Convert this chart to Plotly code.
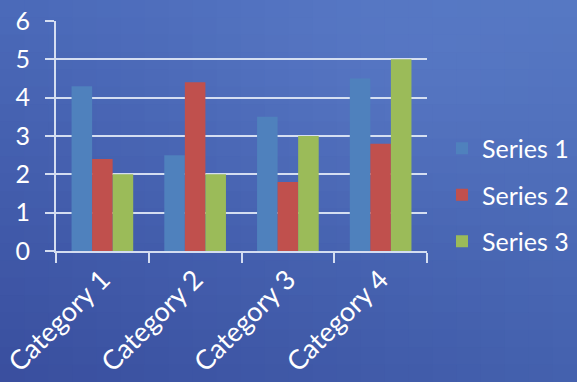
import math
import plotly.graph_objects as go

categories = ["Category 1", "Category 2", "Category 3", "Category 4"]
series_names = ["Series 1", "Series 2", "Series 3"]
series1 = [4.3, 2.5, 3.5, 4.5]
series2 = [2.4, 4.4, 1.8, 2.8]
series3 = [2, 2, 3, 5]
y_ticks = [0, 1, 2, 3, 4, 5, 6]
bar_colors = ["#4F81BD", "#C0504D", "#9BBB59"]

W, H = 577, 382
FONT = "Lato"
LINE = "rgba(225,232,246,0.92)"

fig = go.Figure()
for name, vals, col in zip(series_names, [series1, series2, series3], bar_colors):
    fig.add_trace(go.Bar(x=categories, y=vals, name=name, legendgroup=name,
                         marker=dict(color=col, line=dict(width=0))))

# background gradient (style only)
TL, TR, BL, BR = (75, 106, 185), (84, 118, 193), (57, 78, 158), (68, 97, 174)
shapes = []
nx, ny = 24, 22
for i in range(nx):
    for j in range(ny):
        s = (i + 0.5) / nx
        t = (j + 0.5) / ny
        c = []
        for k in range(3):
            top = TL[k] * (1 - s) + TR[k] * s
            bot = BL[k] * (1 - s) + BR[k] * s
            v = top * (1 - t) + bot * t
            v += 7 * math.exp(-(((s - 0.65) / 0.35) ** 2 + ((t - 0.2) / 0.35) ** 2))
            c.append(int(max(0, min(255, round(v)))))
        col = "rgb(%d,%d,%d)" % tuple(c)
        shapes.append(dict(type="rect", xref="paper", yref="paper",
                           x0=i / nx, x1=(i + 1) / nx + 0.002,
                           y0=1 - (j + 1) / ny - 0.002, y1=1 - j / ny,
                           fillcolor=col, line=dict(width=0), layer="below"))

fig.update_layout(
    width=W, height=H, autosize=False,
    margin=dict(l=0, r=0, t=0, b=0, pad=0, autoexpand=False),
    paper_bgcolor="rgb(72,100,178)",
    plot_bgcolor="rgba(0,0,0,0)",
    shapes=shapes,
    barmode="group", bargap=0.335, bargroupgap=0,
    font=dict(family=FONT, color="white"),
    xaxis=dict(domain=[56 / W, 427 / W], automargin=False,
               showline=True, linecolor=LINE, linewidth=2,
               ticks="outside", tickson="boundaries", ticklen=10, tickwidth=2,
               tickcolor=LINE, tickangle=-45, tickfont=dict(size=27, color="white"),
               showgrid=False, zeroline=False),
    yaxis=dict(domain=[1 - 251 / H, 1 - 21 / H], range=[0, 6], tickvals=y_ticks,
               automargin=False,
               showline=True, linecolor=LINE, linewidth=2, showgrid=True,
               gridcolor=LINE, gridwidth=2, zeroline=False,
               ticks="outside", ticklen=9, tickwidth=2, tickcolor=LINE,
               ticklabelstandoff=10, tickfont=dict(size=25, color="white")),
    legend=dict(x=442 / W, xanchor="left", y=1 - 195 / H, yanchor="middle",
                bgcolor="rgba(0,0,0,0)", font=dict(size=25, color="white"),
                tracegroupgap=11),
    showlegend=True,
)

fig.write_html("out.html")
